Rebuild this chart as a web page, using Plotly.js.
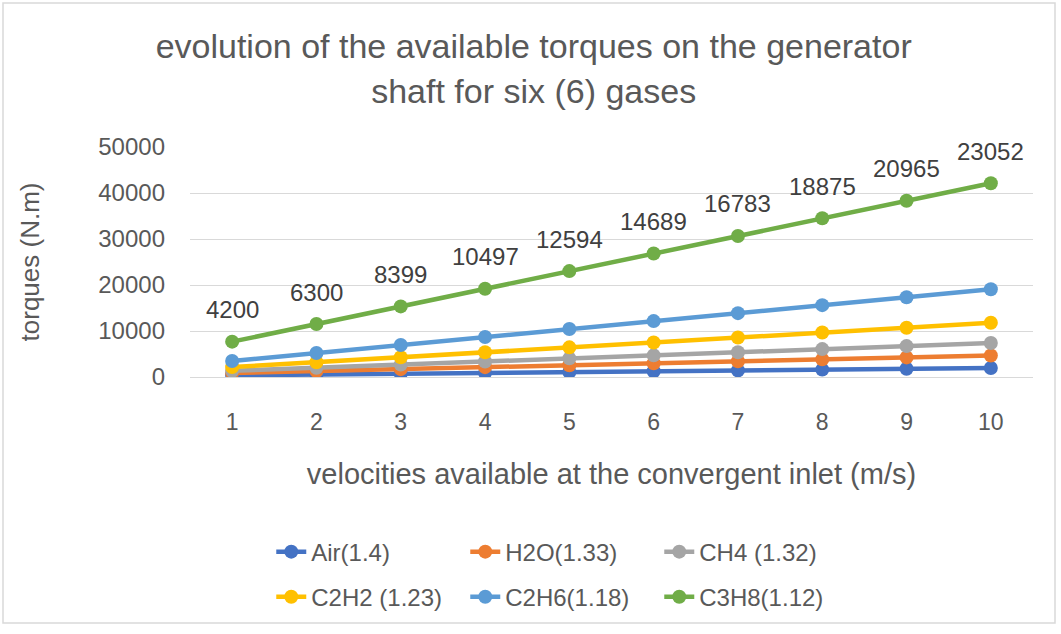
<!DOCTYPE html>
<html>
<head>
<meta charset="utf-8">
<script src="https://cdn.plot.ly/plotly-3.0.1.min.js"></script>
<style>
html,body{margin:0;padding:0;background:#fff;}
#chart{width:1061px;height:634px;}
</style>
</head>
<body>
<div id="chart"></div>
<script>
// velocities (m/s) on the category axis
const velocities = [1, 2, 3, 4, 5, 6, 7, 8, 9, 10];

// series names
const seriesNames = ["Air(1.4)", "H2O(1.33)", "CH4 (1.32)", "C2H2 (1.23)", "C2H6(1.18)", "C3H8(1.12)"];

// torques (N.m) per gas — the chart is a stacked line chart
const air  = [360, 540, 720, 900, 1080, 1250, 1430, 1610, 1790, 1960];
const h2o  = [500, 740, 990, 1240, 1490, 1730, 1980, 2230, 2470, 2720];
const ch4  = [490, 740, 990, 1230, 1480, 1730, 1970, 2220, 2460, 2710];
const c2h2 = [800, 1200, 1600, 2000, 2400, 2800, 3200, 3600, 4000, 4400];
const c2h6 = [1330, 1990, 2650, 3320, 3980, 4640, 5300, 5960, 6620, 7280];
const c3h8 = [4200, 6300, 8399, 10497, 12594, 14689, 16783, 18875, 20965, 23052];

const yTicks = [0, 10000, 20000, 30000, 40000, 50000];

const colors = ["#4472C4", "#ED7D31", "#A5A5A5", "#FFC000", "#5B9BD5", "#70AD47"];
const allSeries = [air, h2o, ch4, c2h2, c2h6, c3h8];

const FONT = "Liberation Sans, Arial, sans-serif";

const traces = allSeries.map((vals, i) => ({
  type: "scatter",
  x: velocities,
  y: vals,
  name: seriesNames[i],
  stackgroup: "one",
  fill: "none",
  mode: "lines+markers",
  line: {color: colors[i], width: 4.5},
  marker: {color: colors[i], size: 14},
  legend: i < 3 ? "legend" : "legend2",
  hoverinfo: "x+y+name"
}));

// data labels of the top (C3H8) series, placed at its stacked position
const stackedTop = velocities.map((v, k) => allSeries.reduce((s, arr) => s + arr[k], 0));
const labelAnnotations = velocities.map((v, k) => ({
  x: v, y: stackedTop[k], xref: "x", yref: "y",
  text: String(c3h8[k]),
  showarrow: false,
  xanchor: "center", yanchor: "middle",
  yshift: 32,
  font: {family: FONT, size: 24, color: "#404040"}
}));

const legendCommon = {
  orientation: "h",
  xanchor: "left",
  yanchor: "middle",
  entrywidth: 149,
  entrywidthmode: "pixels",
  font: {family: FONT, size: 24, color: "#595959"},
  bgcolor: "rgba(0,0,0,0)",
  traceorder: "normal"
};

const layout = {
  width: 1061,
  height: 634,
  margin: {l: 190, r: 28, t: 147, b: 257},
  paper_bgcolor: "#ffffff",
  plot_bgcolor: "#ffffff",
  showlegend: true,
  font: {family: FONT, color: "#595959"},
  title: {
    text: "evolution of the available torques on the generator<br>shaft for six (6) gases",
    font: {family: FONT, size: 34, color: "#595959"},
    x: 0.503, xref: "container", xanchor: "center",
    y: 0.908, yref: "container", yanchor: "top"
  },
  xaxis: {
    range: [0.5, 10.5],
    tickvals: velocities,
    ticktext: velocities.map(String),
    showgrid: false,
    zeroline: false,
    showline: true,
    linecolor: "#d9d9d9",
    linewidth: 1,
    ticks: "",
    ticklabelstandoff: 24,
    tickfont: {family: FONT, size: 23, color: "#595959"},
    title: {
      text: "velocities available at the convergent inlet (m/s)",
      font: {family: FONT, size: 29, color: "#595959"},
      standoff: 30
    },
    fixedrange: true
  },
  yaxis: {
    range: [0, 50000],
    tickvals: yTicks,
    ticktext: yTicks.map(String),
    showgrid: true,
    gridcolor: "#d9d9d9",
    gridwidth: 1,
    zeroline: false,
    showline: false,
    ticks: "",
    ticklabelstandoff: 24,
    tickfont: {family: FONT, size: 24, color: "#595959"},
    title: {
      text: "torques (N.m)",
      font: {family: FONT, size: 26, color: "#595959"},
      standoff: 51
    },
    fixedrange: true
  },
  legend: Object.assign({}, legendCommon, {x: 0.0964, y: -0.761}),
  legend2: Object.assign({}, legendCommon, {x: 0.0964, y: -0.957}),
  annotations: labelAnnotations,
  shapes: [{
    type: "rect", xref: "paper", yref: "paper",
    x0: (3 - 190) / 843, x1: (1055 - 190) / 843,
    y0: (377 - 623) / 230, y1: (377 - 3) / 230,
    line: {color: "#d9d9d9", width: 1.5},
    fillcolor: "rgba(0,0,0,0)",
    layer: "below"
  }]
};

Plotly.newPlot("chart", traces, layout, {displayModeBar: false, staticPlot: true});
</script>
</body>
</html>
